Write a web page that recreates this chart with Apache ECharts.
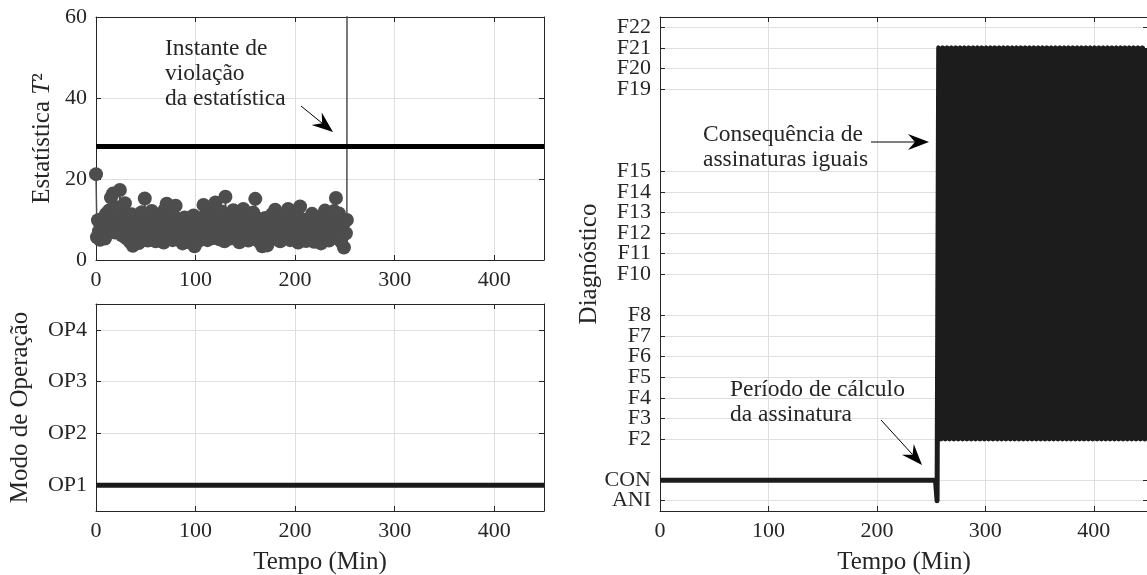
<!DOCTYPE html>
<html>
<head>
<meta charset="utf-8">
<script src="https://cdn.jsdelivr.net/npm/echarts@6/dist/echarts.min.js"></script>
<style>
  html, body { margin: 0; padding: 0; background: #ffffff; }
  #chart { width: 1147px; height: 575px; }
</style>
</head>
<body>
<div id="chart"></div>
<script>
// ---- Data -------------------------------------------------------------

// Time axis (minutes)
const timeRange = [0, 450];
const timeTicks = [0, 100, 200, 300, 400];

// T² statistic, one sample per minute starting at t = 0
const t2Step = 1;
const t2Values = [
  21.2, 5.6, 9.8, 7.1, 5.0, 8.4, 6.2, 10.3, 7.7, 5.3, 11.4, 8.9, 6.5, 12.2, 9.4, 15.4, 7.2, 16.4, 10.1, 6.8,
  13.0, 8.6, 11.7, 7.9, 17.3, 9.5, 6.1, 12.8, 8.3, 14.0, 5.4, 10.6, 7.0, 9.2, 4.5, 8.1, 11.3, 3.5, 6.9, 9.7,
  5.8, 10.9, 7.4, 4.2, 9.0, 6.6, 11.8, 8.0, 5.1, 15.2, 7.5, 9.9, 4.8, 10.4, 6.3, 8.7, 12.1, 5.5, 7.8, 9.3,
  4.6, 10.0, 6.8, 8.5, 11.0, 5.2, 7.3, 9.6, 4.3, 12.4, 6.1, 13.9, 8.2, 5.7, 10.7, 7.1, 9.1, 4.9, 8.8, 6.0,
  13.4, 7.6, 10.2, 5.0, 8.4, 6.4, 9.8, 4.1, 7.9, 10.5, 5.6, 8.1, 6.7, 9.4, 4.4, 7.2, 10.0, 5.3, 11.0, 3.4,
  8.6, 6.2, 9.7, 4.7, 7.5, 10.3, 5.9, 8.3, 13.6, 6.5, 9.0, 11.9, 4.9, 7.7, 10.8, 6.0, 8.9, 5.4, 12.6, 7.3,
  14.2, 9.2, 6.4, 10.9, 5.1, 8.0, 12.0, 7.0, 9.6, 4.6, 15.6, 8.4, 6.1, 11.2, 7.6, 5.3, 9.9, 6.8, 12.3, 8.2,
  5.8, 10.1, 7.3, 9.0, 4.4, 8.6, 6.3, 11.1, 12.6, 5.5, 9.4, 7.1, 10.6, 4.8, 8.1, 6.6, 9.8, 5.2, 11.7, 7.4,
  15.1, 8.9, 6.0, 10.2, 4.5, 7.8, 9.1, 3.4, 8.2, 5.9, 10.4, 6.7, 3.6, 8.5, 7.0, 9.6, 5.0, 11.3, 6.4, 8.0,
  12.4, 7.5, 9.9, 5.6, 8.4, 4.6, 10.7, 6.9, 9.0, 5.3, 7.8, 11.4, 6.2, 12.6, 8.3, 4.9, 10.1, 7.2, 5.7, 9.5,
  11.6, 6.6, 8.7, 4.3, 10.5, 13.2, 7.9, 5.4, 9.3, 6.1, 8.8, 4.7, 10.0, 7.0, 5.8, 9.7, 6.4, 11.4, 8.2, 4.5,
  7.6, 10.2, 5.2, 9.1, 6.8, 8.3, 4.1, 10.8, 7.3, 5.6, 12.2, 8.6, 6.2, 9.9, 4.8, 11.0, 7.8, 5.5, 10.4, 12.1,
  6.9, 15.3, 9.0, 5.3, 11.5, 7.4, 4.6, 8.8, 6.0, 3.1, 9.5, 6.6, 9.9
];
// first sample above the control limit (far outside the plotted range)
const violationTime = 253;
const violationValue = 420;
// control limit of the T² statistic
const t2Limit = 28;
const t2Ticks = [0, 20, 40, 60];

// Operation mode
const opModes = ['OP1', 'OP2', 'OP3', 'OP4'];
const opModeTimes = [0, 450];
const opModeValues = ['OP1', 'OP1'];

// Diagnosis classes (position on the axis = index)
const diagLevels = ['ANI', 'CON', 'F1', 'F2', 'F3', 'F4', 'F5', 'F6', 'F7', 'F8', 'F9',
  'F10', 'F11', 'F12', 'F13', 'F14', 'F15', 'F16', 'F17', 'F18', 'F19', 'F20', 'F21', 'F22'];
const diagTickLabels = ['ANI', 'CON', 'F2', 'F3', 'F4', 'F5', 'F6', 'F7', 'F8',
  'F10', 'F11', 'F12', 'F13', 'F14', 'F15', 'F19', 'F20', 'F21', 'F22'];
const diagRange = [-0.5, 23.5];
// signature computation period, then the first diagnosis
const diagStartTimes = [0, 254, 255.5];
const diagStartValues = ['CON', 'CON', 'ANI'];
// afterwards the diagnosis alternates between two classes every 2 minutes
const diagAltStart = 257;
const diagAltStep = 2;
const diagAltValues = [
  'F21', 'F2', 'F21', 'F2', 'F21', 'F2', 'F21', 'F2', 'F21', 'F2',
  'F21', 'F2', 'F21', 'F2', 'F21', 'F2', 'F21', 'F2', 'F21', 'F2',
  'F21', 'F2', 'F21', 'F2', 'F21', 'F2', 'F21', 'F2', 'F21', 'F2',
  'F21', 'F2', 'F21', 'F2', 'F21', 'F2', 'F21', 'F2', 'F21', 'F2',
  'F21', 'F2', 'F21', 'F2', 'F21', 'F2', 'F21', 'F2', 'F21', 'F2',
  'F21', 'F2', 'F21', 'F2', 'F21', 'F2', 'F21', 'F2', 'F21', 'F2',
  'F21', 'F2', 'F21', 'F2', 'F21', 'F2', 'F21', 'F2', 'F21', 'F2',
  'F21', 'F2', 'F21', 'F2', 'F21', 'F2', 'F21', 'F2', 'F21', 'F2',
  'F21', 'F2', 'F21', 'F2', 'F21', 'F2', 'F21', 'F2', 'F21', 'F2',
  'F21', 'F2', 'F21', 'F2', 'F21', 'F2', 'F21'
];

// ---- Build series data ----------------------------------------------

const t2Data = t2Values.map((v, i) => [i * t2Step, v]);
t2Data.push([violationTime, violationValue]);

const opData = opModeTimes.map((t, i) => [t, opModes.indexOf(opModeValues[i]) + 1]);

const diagData = diagStartTimes.map((t, i) => [t, diagLevels.indexOf(diagStartValues[i])]);
diagAltValues.forEach((lab, i) => diagData.push([diagAltStart + i * diagAltStep, diagLevels.indexOf(lab)]));
const diagTickValues = diagTickLabels.map(l => diagLevels.indexOf(l));
// blank labels at both axis ends keep the closely spaced class names
// from being dropped by the min/max label overlap check
const diagLabelValues = [diagRange[0]].concat(diagTickValues, [diagRange[1]]);

// ---- Styling ----------------------------------------------------------

const FONT = 'Liberation Serif';
const INK = '#262626';
const GRID_LINE = '#dfdfdf';
const TICK_SIZE = 22;
const TITLE_SIZE = 25;
const NOTE_SIZE = 23.5;

function valueAxis(gridIndex, position, range, ticks, opts) {
  const main = opts.main;
  return {
    type: 'value',
    gridIndex: gridIndex,
    position: position,
    min: range[0],
    max: range[1],
    axisLine: { show: true, onZero: false, lineStyle: { color: INK, width: 1 } },
    axisTick: { show: true, inside: true, length: 5, customValues: ticks,
      lineStyle: { color: INK, width: 1 } },
    axisLabel: {
      show: main, customValues: opts.labelValues || ticks, margin: opts.margin || 9,
      hideOverlap: false,
      fontFamily: FONT, fontSize: TICK_SIZE, color: INK,
      formatter: opts.formatter || (v => String(v))
    },
    splitLine: { show: main, lineStyle: { color: GRID_LINE, width: 1 } },
    name: main ? (opts.name || '') : '',
    nameLocation: 'middle',
    nameGap: opts.nameGap || 30,
    nameMoveOverlap: false,
    nameTextStyle: Object.assign({ fontFamily: FONT, fontSize: TITLE_SIZE, color: INK }, opts.nameStyle || {})
  };
}

const grids = [
  { left: 96, top: 17, width: 448, height: 243 },
  { left: 96, top: 304, width: 448, height: 207 },
  { left: 660, top: 17, width: 488, height: 494 }
].map(g => Object.assign({ outerBoundsMode: 'none', containLabel: false }, g));

const xAxes = [
  valueAxis(0, 'bottom', timeRange, timeTicks, { main: true }),
  valueAxis(0, 'top', timeRange, timeTicks, { main: false }),
  valueAxis(1, 'bottom', timeRange, timeTicks, { main: true, name: 'Tempo (Min)', nameGap: 39 }),
  valueAxis(1, 'top', timeRange, timeTicks, { main: false }),
  valueAxis(2, 'bottom', timeRange, timeTicks, { main: true, name: 'Tempo (Min)', nameGap: 39 }),
  valueAxis(2, 'top', timeRange, timeTicks, { main: false })
];

const yAxes = [
  valueAxis(0, 'left', [0, 60], t2Ticks, {
    main: true, name: '{a|Estatística }{i|T}{a|²}', nameGap: 41,
    nameStyle: { rich: {
      a: { fontFamily: FONT, fontSize: TITLE_SIZE, color: INK },
      i: { fontFamily: FONT, fontSize: TITLE_SIZE, color: INK, fontStyle: 'italic' }
    } }
  }),
  valueAxis(0, 'right', [0, 60], t2Ticks, { main: false }),
  valueAxis(1, 'left', [0.5, 4.5], [1, 2, 3, 4], {
    main: true, name: 'Modo de Operação', nameGap: 63,
    formatter: v => opModes[Math.round(v) - 1]
  }),
  valueAxis(1, 'right', [0.5, 4.5], [1, 2, 3, 4], { main: false }),
  valueAxis(2, 'left', diagRange, diagTickValues, {
    main: true, name: 'Diagnóstico', nameGap: 58, labelValues: diagLabelValues,
    formatter: v => (Number.isInteger(v) ? diagLevels[v] : '')
  }),
  valueAxis(2, 'right', diagRange, diagTickValues, { main: false })
];

// ---- Annotations (figure coordinates, px) ----------------------------

function arrow(x1, y1, x2, y2) {
  const dx = x2 - x1, dy = y2 - y1, L = Math.hypot(dx, dy);
  const ux = dx / L, uy = dy / L, px = -uy, py = ux;
  const headLen = 21, headHalf = 8, notch = 14;
  const bx = x2 - ux * headLen, by = y2 - uy * headLen;
  const nx = x2 - ux * notch, ny = y2 - uy * notch;
  return [
    { type: 'line', silent: true, z: 50,
      shape: { x1: x1, y1: y1, x2: nx, y2: ny },
      style: { stroke: '#000', lineWidth: 1 } },
    { type: 'polygon', silent: true, z: 50,
      shape: { points: [[x2, y2], [bx + px * headHalf, by + py * headHalf], [nx, ny],
        [bx - px * headHalf, by - py * headHalf]] },
      style: { fill: '#000' } }
  ];
}

function note(x, y, text) {
  return { type: 'text', silent: true, z: 50, x: x, y: y,
    style: { text: text, font: NOTE_SIZE + 'px "' + FONT + '"', fill: INK,
      lineHeight: 25, align: 'left', verticalAlign: 'top' } };
}

const graphics = [].concat(
  [note(165, 36, 'Instante de\nviolação\nda estatística')],
  arrow(301, 106, 333, 132),
  [note(703, 122, 'Consequência de\nassinaturas iguais')],
  arrow(871, 142, 929, 142),
  [note(730, 377, 'Período de cálculo\nda assinatura')],
  arrow(881, 420, 922, 465)
);

// ---- Chart ------------------------------------------------------------

const chart = echarts.init(document.getElementById('chart'), null, { renderer: 'canvas' });
chart.setOption({
  animation: false,
  backgroundColor: '#ffffff',
  grid: grids,
  xAxis: xAxes,
  yAxis: yAxes,
  graphic: graphics,
  series: [
    {
      name: 'T2', type: 'line', xAxisIndex: 0, yAxisIndex: 0, data: t2Data,
      symbol: 'circle', symbolSize: 14, showAllSymbol: true, clip: true, silent: true,
      itemStyle: { color: '#4d4d4d', borderWidth: 0 },
      lineStyle: { color: '#4d4d4d', width: 1.5 }, z: 2
    },
    {
      name: 'Limite', type: 'line', xAxisIndex: 0, yAxisIndex: 0,
      data: [[timeRange[0], t2Limit], [timeRange[1], t2Limit]],
      symbol: 'none', clip: true, silent: true,
      lineStyle: { color: '#000000', width: 5 }, z: 3
    },
    {
      name: 'Modo', type: 'line', xAxisIndex: 2, yAxisIndex: 2, data: opData,
      symbol: 'none', clip: true, silent: true,
      lineStyle: { color: '#1a1a1a', width: 5 }, z: 3
    },
    {
      name: 'Diagnóstico', type: 'line', xAxisIndex: 4, yAxisIndex: 4, data: diagData,
      symbol: 'none', clip: true, silent: true,
      lineStyle: { color: '#1c1c1c', width: 5, join: 'round', cap: 'butt' }, z: 3
    }
  ]
});
</script>
</body>
</html>
